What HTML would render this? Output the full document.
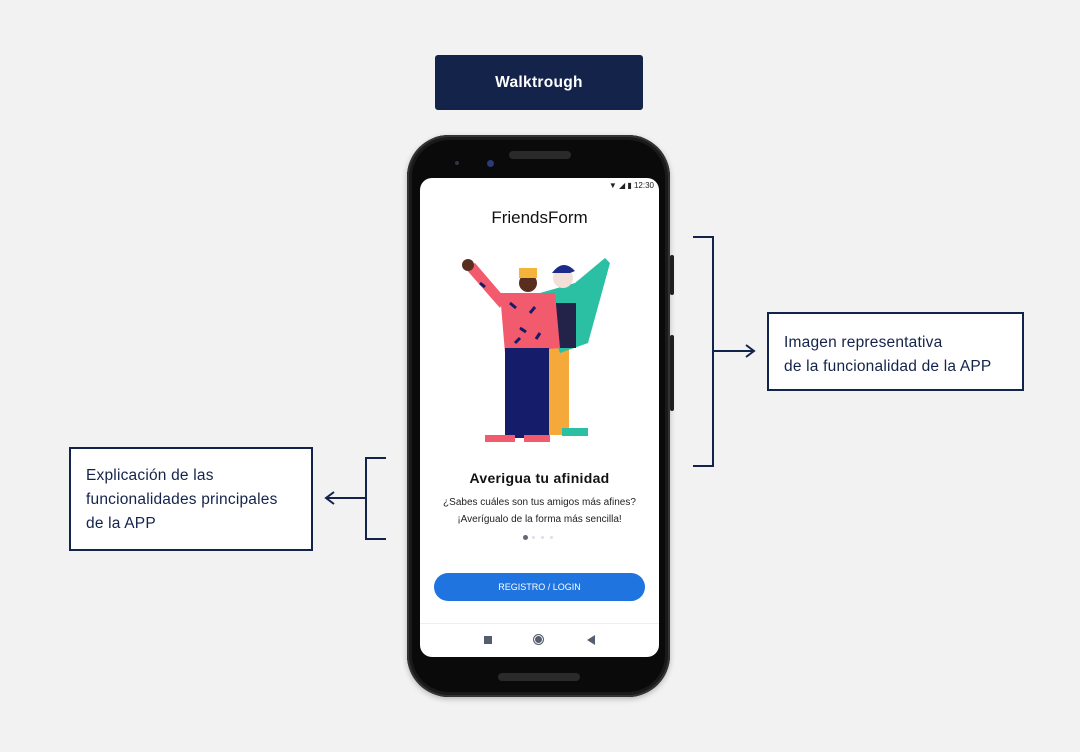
<!DOCTYPE html>
<html><head><meta charset="utf-8"><style>
body{margin:0;width:1080px;height:752px;background:#f2f2f2;position:relative;overflow:hidden;font-family:"Liberation Sans",sans-serif;}
.a{position:absolute}
.box{position:absolute;background:#fff;border:2px solid #13234a;color:#13234a;font-size:15.5px;line-height:24px;box-sizing:border-box;letter-spacing:.2px}
</style></head><body>
<div class="a" style="left:435px;top:55px;width:208px;height:55px;background:#13234a;border-radius:3px;color:#fff;font-size:15.5px;font-weight:bold;text-align:center;line-height:56px;letter-spacing:.3px">Walktrough</div>

<!-- phone -->
<div class="a" style="left:670px;top:255px;width:4px;height:40px;background:#222;border-radius:2px"></div>
<div class="a" style="left:670px;top:335px;width:4px;height:76px;background:#222;border-radius:2px"></div>
<div class="a" style="left:407px;top:135px;width:263px;height:562px;background:#0a0a0a;border-radius:42px;box-shadow:0 0 0 2px #333 inset,0 0 0 5px #1a1a1a inset,0 2px 6px rgba(0,0,0,.25)"></div>
<div class="a" style="left:509px;top:151px;width:62px;height:8px;background:#2a2a2a;border-radius:4px"></div>
<div class="a" style="left:455px;top:161px;width:4px;height:4px;background:#334;border-radius:50%"></div>
<div class="a" style="left:487px;top:160px;width:7px;height:7px;background:#2a3a7a;border-radius:50%"></div>
<div class="a" style="left:498px;top:673px;width:82px;height:8px;background:#2a2a2a;border-radius:4px"></div>
<div class="a" style="left:420px;top:178px;width:239px;height:479px;background:#fff;border-radius:12px;overflow:hidden">
  <div class="a" style="right:5px;top:3px;font-size:8px;color:#222">▼ ◢ ▮ 12:30</div>
  <div class="a" style="left:0;width:239px;top:30px;text-align:center;font-size:17px;color:#111">FriendsForm</div>
  <svg class="a" style="left:0;top:65px" width="239" height="210">
    <rect x="127" y="100" width="22" height="92" fill="#f4a93a"/>
    <path d="M120 50 L155 40 L185 15 L190 20 L168 100 L140 110 Z" fill="#2bbfa3"/>
    <rect x="136" y="60" width="20" height="45" fill="#23234a"/>
    <circle cx="143" cy="35" r="10" fill="#f2e0d8"/>
    <path d="M132 30 Q143 15 155 28 L150 30 Z" fill="#1c2a8a"/>
    <rect x="142" y="185" width="26" height="8" fill="#2bbfa3"/>
    <path d="M80 50 L135 50 L140 105 L85 110 Z" fill="#f25a6e"/>
    <path d="M45 25 L55 20 L85 55 L80 65 Z" fill="#f25a6e"/>
    <rect x="85" y="105" width="44" height="90" fill="#151d6a"/>
    <circle cx="108" cy="40" r="9" fill="#5a2e1e"/>
    <rect x="99" y="25" width="18" height="10" fill="#f4b43a"/>
    <circle cx="48" cy="22" r="6" fill="#5a2e1e"/>
    <rect x="65" y="192" width="30" height="7" fill="#f25a6e"/>
    <rect x="104" y="192" width="26" height="7" fill="#f25a6e"/>
    <g stroke="#151d6a" stroke-width="3"><path d="M90 60l6 5M110 70l5-6M100 85l6 4M120 90l-4 6M95 100l5-5M60 40l5 4"/></g>
  </svg>
  <div class="a" style="left:0;width:239px;top:292px;text-align:center;font-size:14px;font-weight:bold;color:#111;letter-spacing:.3px">Averigua tu afinidad</div>
  <div class="a" style="left:0;width:239px;top:316px;text-align:center;font-size:10px;line-height:17px;color:#222">¿Sabes cuáles son tus amigos más afines?<br>¡Averígualo de la forma más sencilla!</div>
  <div class="a" style="left:103px;top:357px;width:5px;height:5px;background:#667;border-radius:50%"></div>
  <div class="a" style="left:112px;top:358px;width:3px;height:3px;background:#dde;border-radius:50%"></div>
  <div class="a" style="left:121px;top:358px;width:3px;height:3px;background:#dde;border-radius:50%"></div>
  <div class="a" style="left:130px;top:358px;width:3px;height:3px;background:#dde;border-radius:50%"></div>
  <div class="a" style="left:14px;top:395px;width:211px;height:28px;background:#1f74e0;border-radius:14px;color:#fff;font-size:9px;text-align:center;line-height:28px">REGISTRO / LOGIN</div>
  <div class="a" style="left:0;top:445px;width:239px;height:1px;background:#eee"></div>
  <div class="a" style="left:64px;top:458px;width:8px;height:8px;background:#555e70"></div>
  <div class="a" style="left:113px;top:456px;width:9px;height:9px;border:1.5px solid #555e70;border-radius:50%;background:#555e70;box-shadow:inset 0 0 0 1px #fff"></div>
  <div class="a" style="left:167px;top:457px;width:0;height:0;border-top:5px solid transparent;border-bottom:5px solid transparent;border-right:8px solid #555e70"></div>
</div>

<svg class="a" style="left:0;top:0" width="1080" height="752" fill="none" stroke="#13234a" stroke-width="2">
  <path d="M693 237H713V466H693M713 351H754M746 345l8 6-8 6"/>
  <path d="M386 458H366V539H386M366 498H326M334 492l-8 6 8 6"/>
</svg>
<div class="box" style="left:767px;top:312px;width:257px;height:79px;padding:17px 0 0 15px">Imagen representativa<br>de la funcionalidad de la APP</div>
<div class="box" style="left:69px;top:447px;width:244px;height:104px;padding:15px 0 0 15px">Explicación de las<br>funcionalidades principales<br>de la APP</div>
</body></html>
